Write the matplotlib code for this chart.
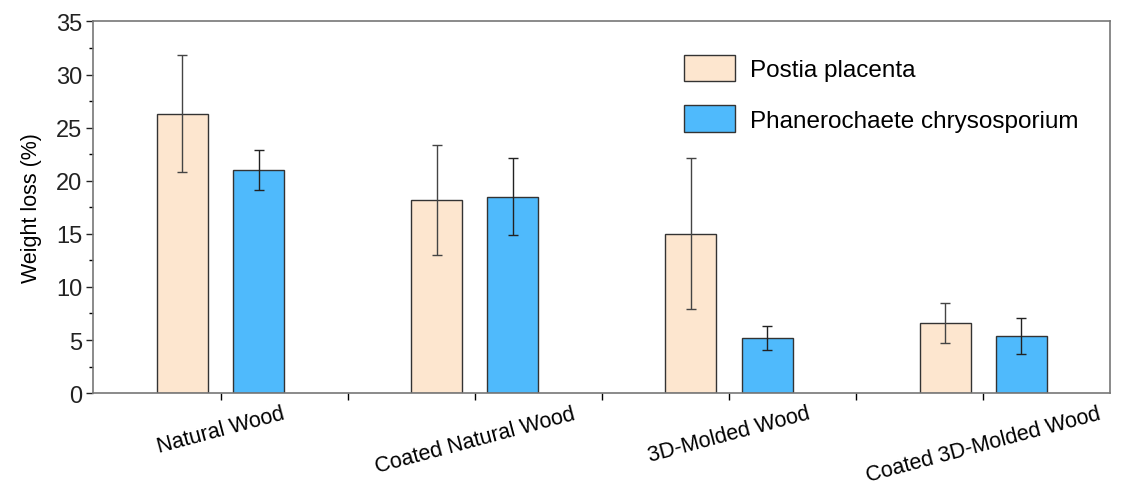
import matplotlib.pyplot as plt
import numpy as np
from matplotlib.ticker import MultipleLocator, FixedLocator

plt.rcParams['font.family'] = ['Liberation Sans', 'DejaVu Sans']

categories = ['Natural Wood', 'Coated Natural Wood', '3D-Molded Wood', 'Coated 3D-Molded Wood']
series_names = ['Postia placenta', 'Phanerochaete chrysosporium']
postia = [26.3, 18.2, 15.0, 6.6]
postia_err = [5.5, 5.2, 7.1, 1.9]
phanero = [21.0, 18.5, 5.2, 5.4]
phanero_err = [1.9, 3.6, 1.15, 1.7]

fig = plt.figure(figsize=(11.25, 4.89), dpi=100)
ax = fig.add_axes([0.083, 0.194, 0.904, 0.760])

x = np.arange(len(categories))
w = 0.2
edge = '#333333'
ax.bar(x - 0.15, postia, w, color='#FDE6CF', edgecolor=edge, linewidth=1,
       yerr=postia_err, capsize=3.5, error_kw=dict(ecolor='#444444', elinewidth=1, capthick=1),
       label=series_names[0])
ax.bar(x + 0.15, phanero, w, color='#4FBAFC', edgecolor=edge, linewidth=1,
       yerr=phanero_err, capsize=3.5, error_kw=dict(ecolor='#222222', elinewidth=1, capthick=1),
       label=series_names[1])

ax.set_xlim(-0.5, 3.5)
ax.set_ylim(0, 35)
ax.yaxis.set_major_locator(MultipleLocator(5))
ax.yaxis.set_minor_locator(MultipleLocator(2.5))
ax.set_xticks(x)
ax.set_xticklabels(categories, rotation=15, ha='center', fontsize=15.5)
ax.xaxis.set_minor_locator(FixedLocator([0.5, 1.5, 2.5]))
ax.tick_params(axis='y', labelsize=17, direction='out', length=5, width=1, colors='#222222', pad=3)
ax.tick_params(axis='y', which='minor', length=3, width=1)
ax.tick_params(axis='x', which='both', direction='out', length=5, width=1, pad=2)
ax.set_ylabel('Weight loss (%)', fontsize=15.5, labelpad=10)

for s in ax.spines.values():
    s.set_color('#777777')
    s.set_linewidth(1.2)

ax.legend(loc='upper right', bbox_to_anchor=(0.99, 0.97), frameon=False, fontsize=17.5,
          handlelength=2.1, handleheight=1.3, labelspacing=1.0, handletextpad=0.6)

fig.savefig('out.png', dpi=100)
